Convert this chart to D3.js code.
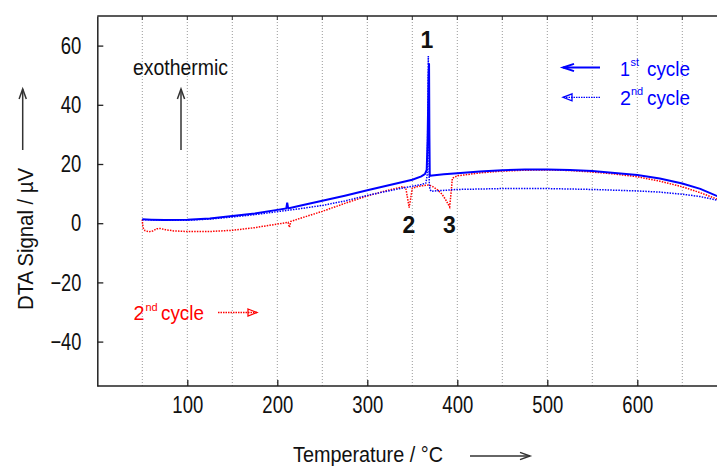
<!DOCTYPE html>
<html><head><meta charset="utf-8">
<script src="https://cdn.jsdelivr.net/npm/d3@7"></script>
<style>body{margin:0;background:#fff}svg{display:block}text{font-family:"Liberation Sans",Arial,sans-serif}</style>
</head><body><svg id="c" width="717" height="466"></svg>
<script>
// ---- data (Temperature °C, DTA signal µV) ----
const firstCycle = [[50,1.3],[60,1.2],[75,1.05],[100,1.15],[125,1.6],[150,2.4],[175,3.3],[200,4.5],[210,5.0],[211,6.9],[212,5.2],[213,5.1],[225,5.9],[250,7.6],[275,9.3],[300,11.1],[325,12.9],[350,14.7],[360,15.8],[364,16.6],[366,18],[367,28],[368,48],[368.6,54],[369,30],[369.4,16],[372,16.1],[385,16.5],[400,16.9],[425,17.5],[450,17.9],[475,18.1],[500,18.1],[525,18.0],[550,17.6],[575,17.0],[600,16.3],[625,15.1],[650,13.4],[670,11.6],[690,9.0],[700,7.8]];
const secondCycleCooling = [[50,1.2],[75,1.0],[100,1.0],[125,1.4],[150,2.1],[175,2.9],[200,3.9],[225,4.9],[250,6.0],[275,7.5],[300,9.4],[325,11.0],[350,12.5],[360,13.1],[365,13.5],[366.5,16],[367.3,35],[367.8,56.5],[368.3,35],[368.8,14],[369.5,11.5],[371,10.8],[380,11.0],[400,11.4],[450,11.7],[500,11.7],[550,11.4],[600,10.9],[625,10.5],[650,9.8],[670,9.0],[690,7.7],[700,7.0]];
const secondCycleHeating = [[50,1.3],[50.3,-0.3],[51,-1.6],[53,-2.5],[57,-2.9],[62,-2.6],[66,-1.9],[70,-1.8],[76,-2.2],[85,-2.6],[100,-2.8],[125,-2.8],[150,-2.4],[175,-1.5],[200,-0.3],[212,0.3],[213.5,-1.4],[215,0.6],[225,1.6],[250,4.0],[275,6.7],[300,9.2],[320,10.9],[335,12.0],[340,12.4],[343,11.5],[345,8],[346.5,5.3],[348,8],[350,11.8],[355,12.3],[360,12.6],[368,12.9],[372,12.5],[378,11.3],[383,9.8],[387,8],[391.5,5.5],[393,10],[394.5,15.2],[400,16.0],[425,17.0],[450,17.6],[475,17.9],[500,18.0],[525,17.8],[550,17.3],[575,16.6],[600,15.7],[625,14.2],[650,12.3],[670,10.3],[690,8.0],[700,7.0]];
const xTicks = [100,200,300,400,500,600];
const yTicks = [-40,-20,0,20,40,60];
const xGrid = [50,100,150,200,250,300,350,400,450,500,550,600,650];

const svg = d3.select("#c");
const L=97.3, R=727.3, T=16, B=386;
const x = d3.scaleLinear().domain([0,700]).range([L,R]);
const y = d3.scaleLinear().domain([-55,70]).range([B,T]);

svg.append("clipPath").attr("id","clip").append("rect").attr("x",L).attr("y",T).attr("width",717-L).attr("height",B-T);

// grid
svg.append("g").selectAll("line").data(xGrid).join("line")
  .attr("x1",d=>x(d)).attr("x2",d=>x(d)).attr("y1",T).attr("y2",B)
  .attr("stroke","#9a9a9a").attr("stroke-width",1).attr("stroke-dasharray","1,2");
// top ticks
svg.append("g").selectAll("line").data(xGrid).join("line")
  .attr("x1",d=>x(d)).attr("x2",d=>x(d)).attr("y1",T).attr("y2",T+4)
  .attr("stroke","#333").attr("stroke-width",1);
svg.append("line").attr("x1",L).attr("x2",717).attr("y1",T).attr("y2",T).attr("stroke","#222").attr("stroke-width",1.5);

// axes
const ax = svg.append("g").attr("transform",`translate(0,${B})`)
  .call(d3.axisBottom(x).tickValues(xTicks).tickSize(-6).tickSizeOuter(0).tickPadding(10));
const ay = svg.append("g").attr("transform",`translate(${L},0)`)
  .call(d3.axisLeft(y).tickValues(yTicks).tickSize(-6).tickSizeOuter(0).tickPadding(16).tickFormat(d=>d<0?"\u2212"+Math.abs(d):d));
[ax,ay].forEach(a=>{
  a.select(".domain").attr("stroke","#222").attr("stroke-width",1.5);
  a.selectAll(".tick line").attr("stroke","#222").attr("stroke-width",1.3);
  a.selectAll("text").attr("font-size",24).attr("fill","#111").attr("font-family","'Liberation Sans',Arial,sans-serif")
   .attr("lengthAdjust","spacingAndGlyphs").attr("textLength",function(){return this.textContent.length*10.3;});
});
ax.select(".domain").attr("d",`M${L},0H717`);

// lines
const line = d3.line().x(d=>x(d[0])).y(d=>y(d[1]));
const g = svg.append("g").attr("clip-path","url(#clip)");
g.append("path").datum(secondCycleHeating).attr("d",line).attr("fill","none")
  .attr("stroke","#ff0000").attr("stroke-width",1.5).attr("stroke-dasharray","1.5,1.2");
g.append("path").datum(secondCycleCooling).attr("d",line).attr("fill","none")
  .attr("stroke","#0000ff").attr("stroke-width",1.5).attr("stroke-dasharray","1.5,1.2");
g.append("path").datum(firstCycle).attr("d",line).attr("fill","none")
  .attr("stroke","#0000ff").attr("stroke-width",2);

// text helpers
function txt(s,xx,yy,size,fill,opts={}){
  const t=svg.append("text").attr("x",xx).attr("y",yy).attr("font-size",size).attr("fill",fill).text(s);
  if(opts.anchor)t.attr("text-anchor",opts.anchor);
  if(opts.weight)t.attr("font-weight",opts.weight);
  if(opts.len)t.attr("textLength",opts.len).attr("lengthAdjust","spacingAndGlyphs");
  return t;
}
txt("exothermic",133,75,21.5,"#111",{len:95});
txt("Temperature / °C",293,462,21.5,"#111",{len:150});
svg.append("text").attr("transform","translate(33,239) rotate(-90)").attr("text-anchor","middle")
  .attr("font-size",21.5).attr("fill","#111").attr("textLength",142).attr("lengthAdjust","spacingAndGlyphs").text("DTA Signal / µV");

txt("1",427,48,23,"#111",{anchor:"middle",weight:"bold"});
txt("2",409,233,23,"#111",{anchor:"middle",weight:"bold"});
txt("3",449.5,233,23,"#111",{anchor:"middle",weight:"bold"});

// legend texts
txt("1",620,75.5,21,"#0000ff",{len:10});
txt("st",630.5,65.5,11,"#0000ff");
txt("cycle",647,75.5,21,"#0000ff",{len:43});
txt("2",620,104.5,21,"#0000ff",{len:11});
txt("nd",631,95,11,"#0000ff");
txt("cycle",647,104.5,21,"#0000ff",{len:43});
txt("2",133.5,320,21,"#ff0000",{len:11});
txt("nd",145.5,310.5,11,"#ff0000");
txt("cycle",161,320,21,"#ff0000",{len:43});

// arrows
function arrow(x1,y1,x2,y2,color,w,dash,head){
  const a=svg.append("g").attr("stroke",color).attr("stroke-width",w).attr("fill","none");
  const l=a.append("line").attr("x1",x1).attr("y1",y1).attr("x2",x2).attr("y2",y2);
  if(dash)l.attr("stroke-dasharray",dash);
  const ang=Math.atan2(y2-y1,x2-x1), hl=head||10, hw=3.6;
  const bx=x2-hl*Math.cos(ang), by=y2-hl*Math.sin(ang);
  const px=-Math.sin(ang)*hw, py=Math.cos(ang)*hw;
  a.append("path").attr("d",`M${bx+px},${by+py}L${x2},${y2}L${bx-px},${by-py}`);
  return a;
}
arrow(22.7,150,22.7,89,"#333",1.5);
arrow(181,150,181,89,"#333",1.5);
arrow(470,456,530,456,"#333",1.5);
arrow(600,67.5,563,67.5,"#0000ff",2,null,11);
const a2=arrow(600,97.3,563,97.3,"#0000ff",1.3,"1.5,1",9);
a2.select("path").attr("d",`M572,93.8L563,97.3L572,100.8Z`);
const a3=arrow(218,312.5,257,312.5,"#ff0000",1.3,"1.5,1",9);
a3.select("path").attr("d",`M248,309L257,312.5L248,316Z`);
</script></body></html>
